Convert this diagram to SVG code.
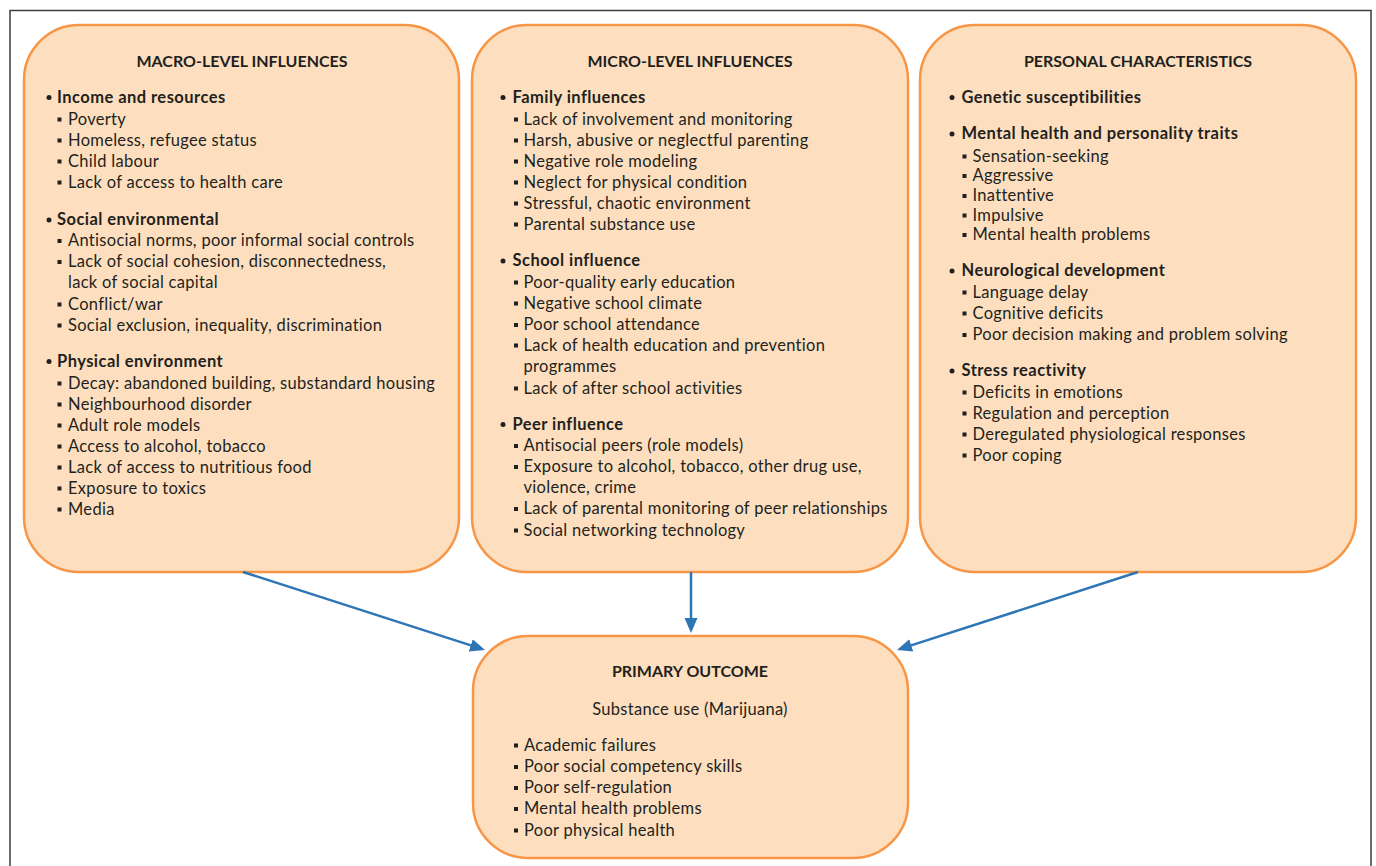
<svg xmlns="http://www.w3.org/2000/svg" width="1376" height="866" viewBox="0 0 1376 866">
<style>
.box{fill:#FDDFBF;stroke:#F79646;stroke-width:2.5}
.t{font-family:Lato,"Liberation Sans",sans-serif;font-size:16.5px;letter-spacing:0.3px;fill:#231F20}
.b{font-family:Lato,"Liberation Sans",sans-serif;font-size:16.5px;letter-spacing:0.45px;font-weight:bold;fill:#231F20}
.h{font-family:Lato,"Liberation Sans",sans-serif;font-size:16px;font-weight:bold;fill:#231F20;text-anchor:middle}
.c{text-anchor:middle}
.dot{fill:#231F20}
.con{stroke:#2E75B6;stroke-width:2.5;fill:none;marker-end:url(#ah)}
</style>
<defs>
<marker id="ah" markerUnits="userSpaceOnUse" markerWidth="16" markerHeight="14" refX="5" refY="7" orient="auto">
<path d="M0,0.5 L15,7 L0,13.5 z" fill="#2E75B6"/>
</marker>
</defs>
<rect width="1376" height="866" fill="#FFFFFF"/>
<path d="M10,870 V10.5 H1371 V870" fill="none" stroke="#3C3C3C" stroke-width="1.5"/>

<g id="macro">
<rect class="box" x="24" y="25" width="435" height="547" rx="55" ry="55"/>
<text class="h" x="242" y="67">MACRO-LEVEL INFLUENCES</text>
<circle class="dot" cx="49" cy="97.5" r="2.5"/><text class="b" x="57" y="102.5">Income and resources</text>
<rect class="dot" x="57.5" y="117.5" width="4" height="4"/><text class="t" x="68" y="124.5">Poverty</text>
<rect class="dot" x="57.5" y="138.5" width="4" height="4"/><text class="t" x="68" y="145.5">Homeless, refugee status</text>
<rect class="dot" x="57.5" y="159.5" width="4" height="4"/><text class="t" x="68" y="166.5">Child labour</text>
<rect class="dot" x="57.5" y="180.5" width="4" height="4"/><text class="t" x="68" y="187.5">Lack of access to health care</text>
<circle class="dot" cx="49" cy="220" r="2.5"/><text class="b" x="57" y="225">Social environmental</text>
<rect class="dot" x="57.5" y="239" width="4" height="4"/><text class="t" x="68" y="246">Antisocial norms, poor informal social controls</text>
<rect class="dot" x="57.5" y="260" width="4" height="4"/><text class="t" x="68" y="267">Lack of social cohesion, disconnectedness,</text>
<text class="t" x="68" y="288">lack of social capital</text>
<rect class="dot" x="57.5" y="302.5" width="4" height="4"/><text class="t" x="68" y="309.5">Conflict/war</text>
<rect class="dot" x="57.5" y="323.5" width="4" height="4"/><text class="t" x="68" y="330.5">Social exclusion, inequality, discrimination</text>
<circle class="dot" cx="49" cy="361.5" r="2.5"/><text class="b" x="57" y="366.5">Physical environment</text>
<rect class="dot" x="57.5" y="381.5" width="4" height="4"/><text class="t" x="68" y="388.5">Decay: abandoned building, substandard housing</text>
<rect class="dot" x="57.5" y="402.5" width="4" height="4"/><text class="t" x="68" y="409.5">Neighbourhood disorder</text>
<rect class="dot" x="57.5" y="423.5" width="4" height="4"/><text class="t" x="68" y="430.5">Adult role models</text>
<rect class="dot" x="57.5" y="444.5" width="4" height="4"/><text class="t" x="68" y="451.5">Access to alcohol, tobacco</text>
<rect class="dot" x="57.5" y="465.5" width="4" height="4"/><text class="t" x="68" y="472.5">Lack of access to nutritious food</text>
<rect class="dot" x="57.5" y="486.5" width="4" height="4"/><text class="t" x="68" y="493.5">Exposure to toxics</text>
<rect class="dot" x="57.5" y="507.5" width="4" height="4"/><text class="t" x="68" y="514.5">Media</text>
</g>

<g id="micro">
<rect class="box" x="472" y="25" width="436" height="547" rx="55" ry="55"/>
<text class="h" x="690" y="67">MICRO-LEVEL INFLUENCES</text>
<circle class="dot" cx="503" cy="97.5" r="2.5"/><text class="b" x="512.5" y="102.5">Family influences</text>
<rect class="dot" x="514" y="117.5" width="4" height="4"/><text class="t" x="523.5" y="124.5">Lack of involvement and monitoring</text>
<rect class="dot" x="514" y="138.5" width="4" height="4"/><text class="t" x="523.5" y="145.5">Harsh, abusive or neglectful parenting</text>
<rect class="dot" x="514" y="159.5" width="4" height="4"/><text class="t" x="523.5" y="166.5">Negative role modeling</text>
<rect class="dot" x="514" y="180.5" width="4" height="4"/><text class="t" x="523.5" y="187.5">Neglect for physical condition</text>
<rect class="dot" x="514" y="201.5" width="4" height="4"/><text class="t" x="523.5" y="208.5">Stressful, chaotic environment</text>
<rect class="dot" x="514" y="222.5" width="4" height="4"/><text class="t" x="523.5" y="229.5">Parental substance use</text>
<circle class="dot" cx="503" cy="261" r="2.5"/><text class="b" x="512.5" y="266">School influence</text>
<rect class="dot" x="514" y="280.5" width="4" height="4"/><text class="t" x="523.5" y="287.5">Poor-quality early education</text>
<rect class="dot" x="514" y="301.5" width="4" height="4"/><text class="t" x="523.5" y="308.5">Negative school climate</text>
<rect class="dot" x="514" y="323" width="4" height="4"/><text class="t" x="523.5" y="330">Poor school attendance</text>
<rect class="dot" x="514" y="343.5" width="4" height="4"/><text class="t" x="523.5" y="350.5">Lack of health education and prevention</text>
<text class="t" x="523.5" y="371.5">programmes</text>
<rect class="dot" x="514" y="386.5" width="4" height="4"/><text class="t" x="523.5" y="393.5">Lack of after school activities</text>
<circle class="dot" cx="503" cy="424.5" r="2.5"/><text class="b" x="512.5" y="429.5">Peer influence</text>
<rect class="dot" x="514" y="444" width="4" height="4"/><text class="t" x="523.5" y="451">Antisocial peers (role models)</text>
<rect class="dot" x="514" y="465" width="4" height="4"/><text class="t" x="523.5" y="472">Exposure to alcohol, tobacco, other drug use,</text>
<text class="t" x="523.5" y="493">violence, crime</text>
<rect class="dot" x="514" y="507" width="4" height="4"/><text class="t" x="523.5" y="514">Lack of parental monitoring of peer relationships</text>
<rect class="dot" x="514" y="528.5" width="4" height="4"/><text class="t" x="523.5" y="535.5">Social networking technology</text>
</g>

<g id="personal">
<rect class="box" x="920" y="25" width="436" height="547" rx="55" ry="55"/>
<text class="h" x="1138" y="67">PERSONAL CHARACTERISTICS</text>
<circle class="dot" cx="952" cy="97.5" r="2.5"/><text class="b" x="961.5" y="102.5">Genetic susceptibilities</text>
<circle class="dot" cx="952" cy="134" r="2.5"/><text class="b" x="961.5" y="139">Mental health and personality traits</text>
<rect class="dot" x="962.5" y="154.5" width="4" height="4"/><text class="t" x="972.5" y="161.5">Sensation-seeking</text>
<rect class="dot" x="962.5" y="174" width="4" height="4"/><text class="t" x="972.5" y="181">Aggressive</text>
<rect class="dot" x="962.5" y="194" width="4" height="4"/><text class="t" x="972.5" y="201">Inattentive</text>
<rect class="dot" x="962.5" y="213.5" width="4" height="4"/><text class="t" x="972.5" y="220.5">Impulsive</text>
<rect class="dot" x="962.5" y="233" width="4" height="4"/><text class="t" x="972.5" y="240">Mental health problems</text>
<circle class="dot" cx="952" cy="271" r="2.5"/><text class="b" x="961.5" y="276">Neurological development</text>
<rect class="dot" x="962.5" y="290.5" width="4" height="4"/><text class="t" x="972.5" y="297.5">Language delay</text>
<rect class="dot" x="962.5" y="311.5" width="4" height="4"/><text class="t" x="972.5" y="318.5">Cognitive deficits</text>
<rect class="dot" x="962.5" y="333" width="4" height="4"/><text class="t" x="972.5" y="340">Poor decision making and problem solving</text>
<circle class="dot" cx="952" cy="371" r="2.5"/><text class="b" x="961.5" y="376">Stress reactivity</text>
<rect class="dot" x="962.5" y="390.5" width="4" height="4"/><text class="t" x="972.5" y="397.5">Deficits in emotions</text>
<rect class="dot" x="962.5" y="411.5" width="4" height="4"/><text class="t" x="972.5" y="418.5">Regulation and perception</text>
<rect class="dot" x="962.5" y="432.5" width="4" height="4"/><text class="t" x="972.5" y="439.5">Deregulated physiological responses</text>
<rect class="dot" x="962.5" y="453.5" width="4" height="4"/><text class="t" x="972.5" y="460.5">Poor coping</text>
</g>

<g id="primary">
<rect class="box" x="473" y="636" width="435" height="222" rx="55" ry="55"/>
<text class="h" x="690" y="677">PRIMARY OUTCOME</text>
<text class="t c" x="690" y="715">Substance use (Marijuana)</text>
<rect class="dot" x="514" y="743.5" width="4" height="4"/><text class="t" x="524" y="750.5">Academic failures</text>
<rect class="dot" x="514" y="765" width="4" height="4"/><text class="t" x="524" y="772">Poor social competency skills</text>
<rect class="dot" x="514" y="786" width="4" height="4"/><text class="t" x="524" y="793">Poor self-regulation</text>
<rect class="dot" x="514" y="807" width="4" height="4"/><text class="t" x="524" y="814">Mental health problems</text>
<rect class="dot" x="514" y="828.5" width="4" height="4"/><text class="t" x="524" y="835.5">Poor physical health</text>
</g>

<g id="connectors">
<line class="con" x1="243" y1="572" x2="475.5" y2="646.9"/>
<line class="con" x1="691" y1="572" x2="691" y2="623"/>
<line class="con" x1="1138" y1="572" x2="906.5" y2="646.9"/>
</g>
</svg>
